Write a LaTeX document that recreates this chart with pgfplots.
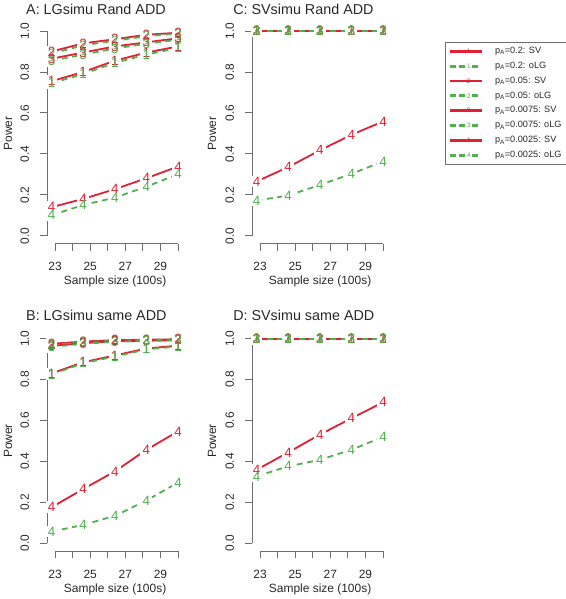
\documentclass[border=0pt]{standalone}
\usepackage{fontspec}
\setmainfont{Liberation Sans}
\usepackage{pgfplots}
\usepackage{pgfplotstable}
\pgfplotsset{compat=1.18}
\definecolor{rred}{RGB}{226,32,52}
\definecolor{rgreen}{RGB}{80,176,76}
\definecolor{axisgray}{RGB}{110,110,110}
\definecolor{txt}{RGB}{40,40,40}

\pgfplotstableread{
x    s1    o1    s2    o2    s3    o3    s4    o4
22.8 0.755 0.745 0.900 0.890 0.865 0.855 0.139 0.100
24.6 0.800 0.790 0.940 0.930 0.895 0.885 0.180 0.150
26.4 0.855 0.845 0.960 0.953 0.925 0.915 0.227 0.186
28.2 0.895 0.885 0.982 0.975 0.945 0.938 0.281 0.240
30.0 0.925 0.918 0.992 0.988 0.965 0.958 0.338 0.300
}\tabA
\pgfplotstableread{
x    s1    o1    s2    o2    s3    o3    s4    o4
22.8 0.830 0.825 0.975 0.970 0.965 0.960 0.176 0.057
24.6 0.885 0.880 0.986 0.983 0.978 0.975 0.265 0.090
26.4 0.918 0.913 0.993 0.990 0.988 0.985 0.351 0.134
28.2 0.952 0.948 0.995 0.994 0.990 0.989 0.457 0.209
30.0 0.966 0.962 0.997 0.996 0.993 0.992 0.547 0.297
}\tabB
\pgfplotstableread{
x    s1    o1    s2    o2    s3    o3    s4    o4
22.8 1.000 0.999 1.000 1.000 1.000 0.999 0.265 0.172
24.6 1.000 0.999 1.000 1.000 1.000 0.999 0.335 0.196
26.4 1.000 0.999 1.000 1.000 1.000 0.999 0.417 0.248
28.2 1.000 0.999 1.000 1.000 1.000 0.999 0.493 0.302
30.0 1.000 0.999 1.000 1.000 1.000 0.999 0.558 0.363
}\tabC
\pgfplotstableread{
x    s1    o1    s2    o2    s3    o3    s4    o4
22.8 1.000 0.999 1.000 1.000 1.000 0.999 0.359 0.327
24.6 1.000 0.999 1.000 1.000 1.000 0.999 0.444 0.376
26.4 1.000 0.999 1.000 1.000 1.000 0.999 0.531 0.408
28.2 1.000 0.999 1.000 1.000 1.000 0.999 0.611 0.457
30.0 1.000 0.999 1.000 1.000 1.000 0.999 0.689 0.520
}\tabD

\newcommand{\ttl}{\fontsize{14.4}{17}\selectfont}
\pgfplotsset{
  rpanel/.style={
    scale only axis, width=136bp, height=221bp,
    xmin=22.55, xmax=30.29, ymin=-0.04, ymax=1.04,
    axis lines*=left, axis line style={draw=none},
    xtick={23,24,25,26,27,28,29,30}, xticklabels={23,,25,,27,,29,},
    ytick={0,0.2,0.4,0.6,0.8,1.0}, yticklabels={0.0,0.2,0.4,0.6,0.8,1.0},
    tick align=outside, major tick length=7bp,
    every tick/.style={axisgray, line width=0.9bp},
    tick label style={font=\fontsize{12}{14}\selectfont, text=txt},
    xticklabel style={anchor=north, inner sep=0pt, yshift=-11.5bp},
    yticklabel style={inner sep=0pt, anchor=south, xshift=-11bp, rotate=90},
    label style={font=\fontsize{12}{14}\selectfont, text=txt},
    xlabel={Sample size (100s)}, ylabel={Power},
    xlabel style={at={(axis description cs:0.5,-0.1846)}, anchor=base, inner sep=0pt},
    title style={anchor=base west, inner sep=0pt, yshift=-6pt, text=txt},
    clip=false,
  },
  svl/.style={rred, line width=1.8bp, solid, no marks},
  olgl/.style={rgreen, line width=1.8bp, dash pattern=on 6bp off 4.5bp, no marks},
  bx/.style={only marks, mark=text, text mark={#1}, text mark as node=true,
    text mark style={font=\fontsize{13.5}{13.5}\selectfont, inner xsep=2.2bp, inner ysep=1.2bp, fill=white, text=white}},
  dg/.style 2 args={#1, only marks, mark=text, text mark={#2}, text mark as node=true,
    text mark style={font=\fontsize{13.5}{13.5}\selectfont, inner sep=0pt}},
}
\newcommand{\axlines}{%
  \draw[axisgray, line width=0.9bp] (axis cs:22.55,0) -- (axis cs:22.55,1);
  \draw[axisgray, line width=0.9bp] (axis cs:23,-0.04) -- (axis cs:30,-0.04);
}
\newcommand{\panelplots}[1]{%
  % lines
  \addplot[svl] table[x=x,y=s1]{#1};
  \addplot[olgl] table[x=x,y=o1]{#1};
  \addplot[svl] table[x=x,y=s2]{#1};
  \addplot[olgl] table[x=x,y=o2]{#1};
  \addplot[svl] table[x=x,y=s3]{#1};
  \addplot[olgl] table[x=x,y=o3]{#1};
  \addplot[svl] table[x=x,y=s4]{#1};
  \addplot[olgl] table[x=x,y=o4]{#1};
  % gaps round the point symbols
  \addplot[bx=1] table[x=x,y=s1]{#1};
  \addplot[bx=1] table[x=x,y=o1]{#1};
  \addplot[bx=2] table[x=x,y=s2]{#1};
  \addplot[bx=2] table[x=x,y=o2]{#1};
  \addplot[bx=3] table[x=x,y=s3]{#1};
  \addplot[bx=3] table[x=x,y=o3]{#1};
  \addplot[bx=4] table[x=x,y=s4]{#1};
  \addplot[bx=4] table[x=x,y=o4]{#1};
  % point symbols
  \addplot[dg={rred}{1}] table[x=x,y=s1]{#1};
  \addplot[dg={rgreen}{1}] table[x=x,y=o1]{#1};
  \addplot[dg={rred}{2}] table[x=x,y=s2]{#1};
  \addplot[dg={rgreen}{2}] table[x=x,y=o2]{#1};
  \addplot[dg={rred}{3}] table[x=x,y=s3]{#1};
  \addplot[dg={rgreen}{3}] table[x=x,y=o3]{#1};
  \addplot[dg={rred}{4}] table[x=x,y=s4]{#1};
  \addplot[dg={rgreen}{4}] table[x=x,y=o4]{#1};
}
% solid legend sample: a filled bar; dashed: filled dashes
\newcommand{\LegSolid}[1]{%
  \addlegendimage{legend image code/.code={%
    \fill[rred] (0bp,-0.95bp) rectangle (31bp,0.95bp);
    \node[text=rred, font=\fontsize{6.5}{6.5}\selectfont, inner sep=0pt] at (15.5bp,0bp) {#1};}}%
}
\newcommand{\LegDash}[1]{%
  \addlegendimage{legend image code/.code={%
    \fill[rgreen] (0bp,-0.95bp) rectangle (5bp,0.95bp);
    \fill[rgreen] (9bp,-0.95bp) rectangle (14bp,0.95bp);
    \fill[rgreen] (22bp,-0.95bp) rectangle (27bp,0.95bp);
    \node[text=rgreen, font=\fontsize{6.5}{6.5}\selectfont, inner sep=0pt] at (16bp,0bp) {#1};
    \path (31bp,0bp);}}%
}

\begin{document}
\begin{tikzpicture}[x=1bp,y=1bp]
\path[use as bounding box] (0,0) rectangle (566,599);

% Panel A
\begin{axis}[rpanel, at={(47.1bp,355.1bp)}, anchor=south west,
  title={\ttl A: LGsimu Rand ADD}, title style={at={(axis description cs:-0.155,1.039)}},
  ylabel style={at={(axis description cs:-0.2875,0.5)}, anchor=center, inner sep=0pt}]
\panelplots{\tabA}
\axlines
\end{axis}

% Panel B
\begin{axis}[rpanel, at={(47.1bp,47.5bp)}, anchor=south west,
  title={\ttl B: LGsimu same ADD}, title style={at={(axis description cs:-0.155,1.047)}},
  ylabel style={at={(axis description cs:-0.2875,0.5)}, anchor=center, inner sep=0pt}]
\panelplots{\tabB}
\axlines
\end{axis}

% Panel C
\begin{axis}[rpanel, at={(252.1bp,355.1bp)}, anchor=south west,
  title={\ttl C: SVsimu Rand ADD}, title style={at={(axis description cs:-0.140,1.039)}},
  ylabel style={at={(axis description cs:-0.295,0.5)}, anchor=center, inner sep=0pt},
  legend style={at={(axis description cs:1.418,0.9136)}, anchor=north west,
    draw=axisgray, line width=0.7bp, fill=white, inner xsep=5bp, inner ysep=4bp,
    font=\fontsize{9.2}{10}\selectfont, text=txt, row sep=5.4bp,
    nodes={inner sep=0pt, text height=7bp, text depth=2.5bp},
    cells={anchor=west},
    /tikz/every odd column/.append style={column sep=13bp}}]
\LegSolid{1}
\addlegendentry{p\textsubscript{A}=0.2: SV}
\LegDash{1}
\addlegendentry{p\textsubscript{A}=0.2: oLG}
\LegSolid{2}
\addlegendentry{p\textsubscript{A}=0.05: SV}
\LegDash{2}
\addlegendentry{p\textsubscript{A}=0.05: oLG}
\LegSolid{3}
\addlegendentry{p\textsubscript{A}=0.0075: SV}
\LegDash{3}
\addlegendentry{p\textsubscript{A}=0.0075: oLG}
\LegSolid{4}
\addlegendentry{p\textsubscript{A}=0.0025: SV}
\LegDash{4}
\addlegendentry{p\textsubscript{A}=0.0025: oLG}
\panelplots{\tabC}
\axlines
\end{axis}

% Panel D
\begin{axis}[rpanel, at={(252.1bp,47.5bp)}, anchor=south west,
  title={\ttl D: SVsimu same ADD}, title style={at={(axis description cs:-0.140,1.047)}},
  ylabel style={at={(axis description cs:-0.295,0.5)}, anchor=center, inner sep=0pt}]
\panelplots{\tabD}
\axlines
\end{axis}
\end{tikzpicture}
\end{document}
